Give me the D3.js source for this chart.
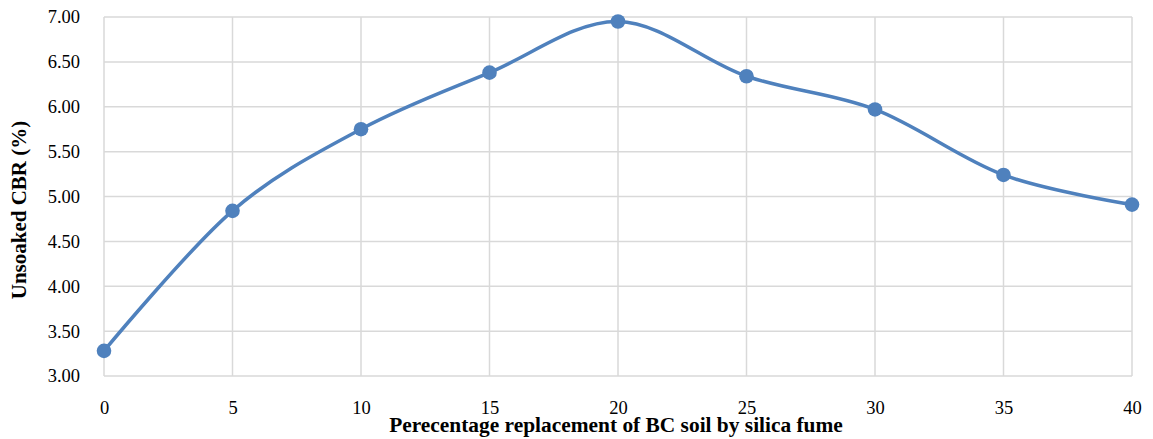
<!DOCTYPE html>
<html>
<head>
<meta charset="utf-8">
<script src="https://cdn.jsdelivr.net/npm/d3@7"></script>
<style>
  body { margin: 0; background: #fff; }
  text { font-family: "Liberation Serif", "Times New Roman", serif; fill: #000; }
</style>
</head>
<body>
<svg id="chart"></svg>
<script>
var xValues = [0, 5, 10, 15, 20, 25, 30, 35, 40];
var cbrValues = [3.28, 4.84, 5.75, 6.38, 6.95, 6.34, 5.97, 5.24, 4.91];
var yTicks = [3.0, 3.5, 4.0, 4.5, 5.0, 5.5, 6.0, 6.5, 7.0];

var svgWidth = 1153, svgHeight = 439;
var margin = { top: 17, right: 21, bottom: 63, left: 104 };
var width = svgWidth - margin.left - margin.right;
var height = svgHeight - margin.top - margin.bottom;

var x = d3.scaleLinear().domain([0, 40]).range([0, width]);
var y = d3.scaleLinear().domain([3, 7]).range([height, 0]);

var svg = d3.select("#chart").attr("width", svgWidth).attr("height", svgHeight);
var g = svg.append("g").attr("transform", "translate(" + margin.left + "," + margin.top + ")");

// grid lines
g.selectAll(".hgrid").data(yTicks).enter().append("line")
    .attr("x1", 0).attr("x2", width)
    .attr("y1", function (d) { return y(d); })
    .attr("y2", function (d) { return y(d); })
    .attr("stroke", "#d9d9d9").attr("stroke-width", 1.5);

g.selectAll(".vgrid").data(xValues).enter().append("line")
    .attr("x1", function (d) { return x(d); })
    .attr("x2", function (d) { return x(d); })
    .attr("y1", 0).attr("y2", height)
    .attr("stroke", "#d9d9d9").attr("stroke-width", 1.5);

// y axis labels
var yAxis = g.append("g").call(d3.axisLeft(y).tickValues(yTicks).tickSize(0).tickPadding(24)
    .tickFormat(d3.format(".2f")));
yAxis.select(".domain").remove();
yAxis.selectAll("text").style("font-size", "18.5px").style("font-family", "Liberation Serif");

// x axis labels
var xAxis = g.append("g").attr("transform", "translate(0," + height + ")")
    .call(d3.axisBottom(x).tickValues(xValues).tickSize(0).tickPadding(25).tickFormat(d3.format("d")));
xAxis.select(".domain").remove();
xAxis.selectAll("text").style("font-size", "18.5px").style("font-family", "Liberation Serif");

// line
var line = d3.line()
    .x(function (d, i) { return x(xValues[i]); })
    .y(function (d) { return y(d); })
    .curve(d3.curveCardinal.tension(0));

g.append("path").datum(cbrValues)
    .attr("fill", "none")
    .attr("stroke", "#4F81BD")
    .attr("stroke-width", 3.5)
    .attr("d", line);

g.selectAll(".dot").data(cbrValues).enter().append("circle")
    .attr("cx", function (d, i) { return x(xValues[i]); })
    .attr("cy", function (d) { return y(d); })
    .attr("r", 7.3)
    .attr("fill", "#4F81BD");

// axis titles
svg.append("text")
    .attr("x", 616).attr("y", 432)
    .attr("text-anchor", "middle")
    .style("font-size", "21.4px").style("font-weight", "bold")
    .text("Perecentage replacement of BC soil by silica fume");

svg.append("text")
    .attr("transform", "translate(26,210) rotate(-90)")
    .attr("text-anchor", "middle")
    .style("font-size", "21px").style("font-weight", "bold")
    .text("Unsoaked CBR (%)");
</script>
</body>
</html>
